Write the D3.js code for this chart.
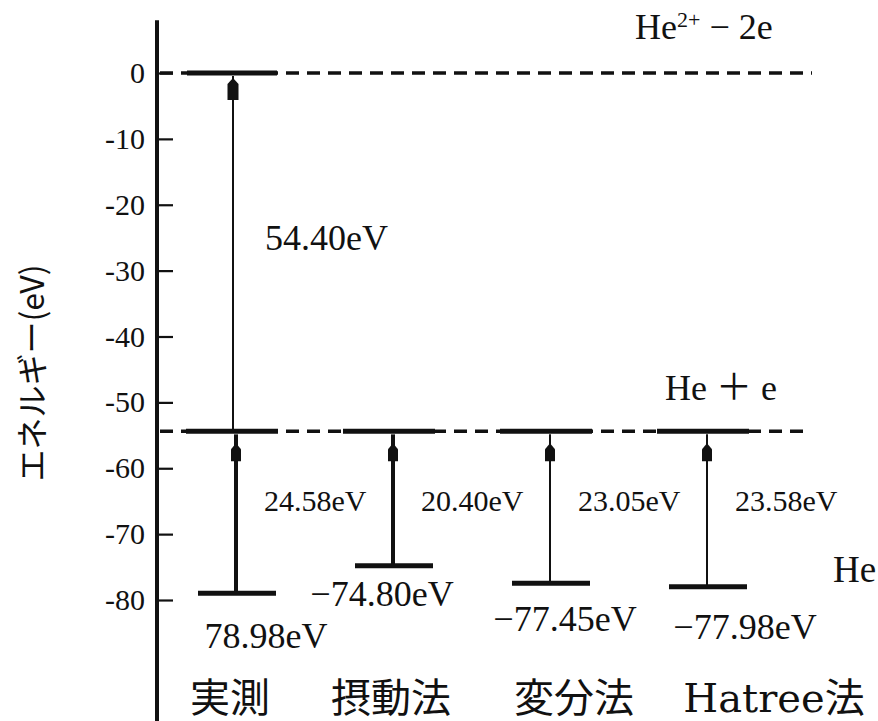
<!DOCTYPE html>
<html>
<head>
<meta charset="utf-8">
<script src="https://cdn.jsdelivr.net/npm/d3@7"></script>
<style>
  body { margin: 0; background: #fff; }
  svg { display: block; }
  text { fill: #111; }
</style>
</head>
<body>
<svg id="chart" width="878" height="721"></svg>
<script>
// Helium energy levels (eV): measured value and three approximation methods
const methods = ["実測", "摂動法", "変分法", "Hatree法"];
const groundEnergy = [-78.98, -74.80, -77.45, -77.98];     // He ground state
const firstIonization = [24.58, 20.40, 23.05, 23.58];       // He -> He+ + e
const groundLabels = ["78.98eV", "−74.80eV", "−77.45eV", "−77.98eV"];
const gapLabels = ["24.58eV", "20.40eV", "23.05eV", "23.58eV"];
const secondIonization = 54.40;                             // He+ -> He2+ + e
const secondLabel = "54.40eV";
const tickValues = [0, -10, -20, -30, -40, -50, -60, -70, -80];
const tickLabels = ["0", "-10", "-20", "-30", "-40", "-50", "-60", "-70", "-80"];
const yTitle = "エネルギー(eV)";

// ---- layout ----
const serif = "'Liberation Serif', 'Times New Roman', 'Noto Sans CJK JP', serif";
const wideSerif = "'DejaVu Serif', 'Noto Sans CJK JP', serif";
const cjk = "'Noto Sans CJK JP', 'Liberation Serif', sans-serif";
const axisX = 157;
const arrowWidths = [4, 4, 2, 2];
const groundLabelDx = [30, -11, 15, 38];
const groundLabelDy = [55, 40, 48, 52];
const methodLabelDx = [-6, -2, 24, 67];

const svg = d3.select("#chart");
const y = d3.scaleLinear().domain([0, -80]).range([73, 600]);
const x = d3.scalePoint().domain(methods).range([236, 707]);

// derived levels
const ionLevel = groundEnergy[0] + firstIonization[0];       // He+ + e
const bareLevel = ionLevel + secondIonization;               // He2+ + 2e

// ---- y axis ----
svg.append("line")
  .attr("x1", axisX).attr("x2", axisX)
  .attr("y1", y(8)).attr("y2", 721)
  .attr("stroke", "#111").attr("stroke-width", 4);

const axis = d3.axisLeft(y)
  .tickValues(tickValues)
  .tickFormat((d, i) => tickLabels[i])
  .tickSize(-16)
  .tickPadding(12);

svg.append("g")
  .attr("transform", `translate(${axisX},0)`)
  .call(axis)
  .call(g => g.select(".domain").remove())
  .call(g => g.selectAll(".tick line").attr("stroke", "#111").attr("stroke-width", 2.2))
  .call(g => g.selectAll(".tick text")
    .attr("fill", "#111")
    .style("font-family", serif)
    .style("font-size", "30px"));

svg.append("text")
  .attr("transform", `translate(44,373) rotate(-90)`)
  .attr("text-anchor", "middle")
  .style("font-family", cjk)
  .style("font-size", "32px")
  .text(yTitle);

// ---- dashed reference levels ----
svg.append("line")
  .attr("x1", 160).attr("x2", 812)
  .attr("y1", y(bareLevel)).attr("y2", y(bareLevel))
  .attr("stroke", "#111").attr("stroke-width", 3.5)
  .attr("stroke-dasharray", "13,8");

svg.append("line")
  .attr("x1", 160).attr("x2", 804)
  .attr("y1", y(ionLevel)).attr("y2", y(ionLevel))
  .attr("stroke", "#111").attr("stroke-width", 3.5)
  .attr("stroke-dasharray", "13,8");

// ---- arrows ----
function arrow(cx, yFrom, yTo, w, headW, headGap, headLen) {
  const g = svg.append("g");
  g.append("line")
    .attr("x1", cx).attr("x2", cx)
    .attr("y1", yFrom).attr("y2", yTo + 3)
    .attr("stroke", "#111").attr("stroke-width", w);
  const t = yTo + headGap;
  g.append("path")
    .attr("d", `M${cx},${t} L${cx + headW / 2},${t + 6} L${cx + headW / 2},${t + headLen} ` +
               `L${cx - headW / 2},${t + headLen} L${cx - headW / 2},${t + 6} Z`)
    .attr("fill", "#111");
}

// He+ -> He2+ transition (measured column)
arrow(x(methods[0]) - 3, y(ionLevel), y(bareLevel), 2, 11, 5, 22);

methods.forEach((m, i) => {
  const cx = x(m);
  const yGround = y(groundEnergy[i]);
  const yUpper = y(groundEnergy[i] + firstIonization[i]);
  arrow(cx, yGround, yUpper, arrowWidths[i], 10, 12, 18);
});

// ---- solid levels ----
const levelStroke = 5;
// bare-nucleus level bar for the measured column
svg.append("line")
  .attr("x1", x(methods[0]) - 49).attr("x2", x(methods[0]) + 41)
  .attr("y1", y(bareLevel)).attr("y2", y(bareLevel))
  .attr("stroke", "#111").attr("stroke-width", levelStroke);

svg.selectAll("line.upper")
  .data(methods)
  .join("line")
  .attr("class", "upper")
  .attr("x1", m => x(m) - 50).attr("x2", m => x(m) + 42)
  .attr("y1", (m, i) => y(groundEnergy[i] + firstIonization[i]))
  .attr("y2", (m, i) => y(groundEnergy[i] + firstIonization[i]))
  .attr("stroke", "#111").attr("stroke-width", levelStroke);

svg.selectAll("line.ground")
  .data(methods)
  .join("line")
  .attr("class", "ground")
  .attr("x1", m => x(m) - 38).attr("x2", m => x(m) + 40)
  .attr("y1", (m, i) => y(groundEnergy[i]))
  .attr("y2", (m, i) => y(groundEnergy[i]))
  .attr("stroke", "#111").attr("stroke-width", levelStroke);

// ---- labels ----
svg.append("text")
  .attr("x", 265).attr("y", 250)
  .style("font-family", serif).style("font-size", "36px")
  .text(secondLabel);

// first-ionization labels share one baseline below the He+ + e level
svg.selectAll("text.gap")
  .data(gapLabels)
  .join("text")
  .attr("class", "gap")
  .attr("x", (d, i) => x(methods[i]) + 28)
  .attr("y", y(ionLevel) + 80)
  .style("font-family", serif).style("font-size", "30px")
  .text(d => d);

svg.selectAll("text.groundLabel")
  .data(groundLabels)
  .join("text")
  .attr("class", "groundLabel")
  .attr("text-anchor", "middle")
  .attr("x", (d, i) => x(methods[i]) + groundLabelDx[i])
  .attr("y", (d, i) => y(groundEnergy[i]) + groundLabelDy[i])
  .style("font-family", serif).style("font-size", "36px")
  .text(d => d);

svg.selectAll("text.method")
  .data(methods)
  .join("text")
  .attr("class", "method")
  .attr("text-anchor", "middle")
  .attr("x", (m, i) => x(m) + methodLabelDx[i])
  .attr("y", 712)
  .style("font-family", wideSerif).style("font-size", "40px")
  .text(m => m);

// state annotations
const bareText = svg.append("text")
  .attr("x", 635).attr("y", y(bareLevel) - 34)
  .style("font-family", serif).style("font-size", "36px");
bareText.append("tspan").text("He");
bareText.append("tspan").attr("dy", -12).style("font-size", "22px").text("2+");
bareText.append("tspan").attr("dy", 12).text(" − 2e");

svg.append("text")
  .attr("x", 665).attr("y", y(ionLevel) - 31)
  .style("font-family", serif).style("font-size", "36px")
  .text("He ＋ e");

svg.append("text")
  .attr("x", 833).attr("y", 582)
  .style("font-family", serif).style("font-size", "37px")
  .text("He");
</script>
</body>
</html>
